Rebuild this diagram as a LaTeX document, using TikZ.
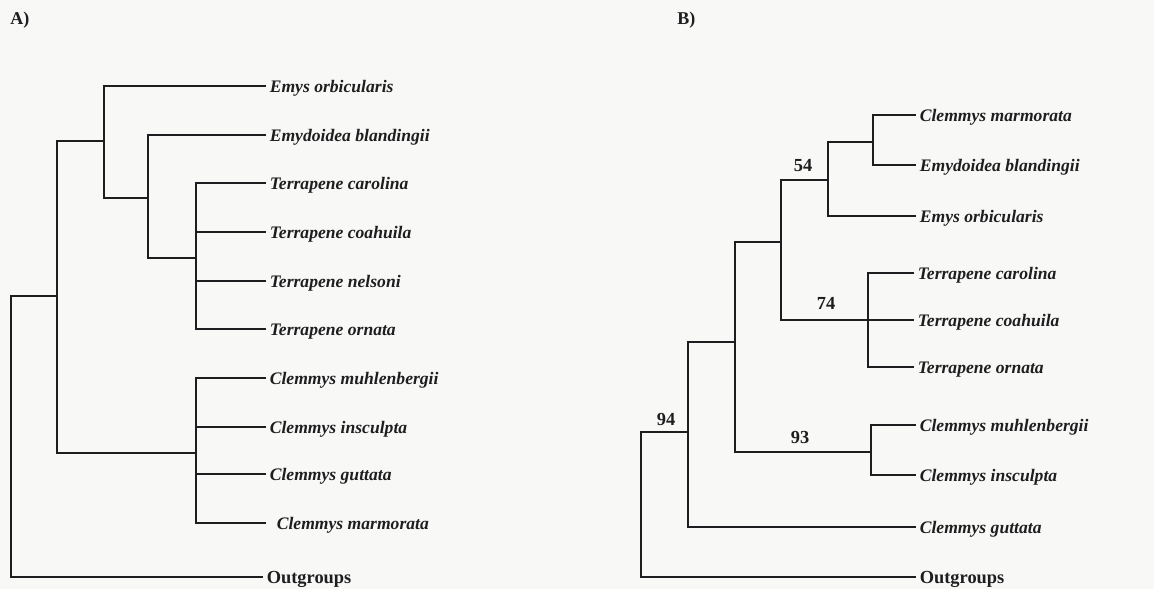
\documentclass[tikz,border=0pt]{standalone}
\usepackage{fontspec}
\setmainfont{Liberation Serif}
\definecolor{bg}{RGB}{248,248,246}
\definecolor{ink}{RGB}{30,30,32}
\begin{document}
\begin{tikzpicture}[x=0.5pt,y=-0.5pt,
  branch/.style={draw=ink,line width=1.2pt,line cap=rect},
  leaf/.style={anchor=west,inner xsep=2.2pt,inner ysep=0pt,text height=6pt,text depth=0pt,
    text=ink,font=\fontsize{8.8}{10}\selectfont\bfseries\itshape},
  outg/.style={anchor=west,inner xsep=2.2pt,inner ysep=0pt,text height=6pt,text depth=0pt,
    text=ink,font=\fontsize{9.2}{10}\selectfont\bfseries},
  support/.style={text=ink,font=\fontsize{9.2}{10}\selectfont\bfseries,inner sep=0pt},
  panel/.style={text=ink,font=\fontsize{9}{10}\selectfont\bfseries,inner sep=0pt,anchor=west}]
\fill[bg] (0,0) rectangle (1154,589);
\useasboundingbox (0,0) rectangle (1154,589);

% ---------------- Panel A ----------------
\node[panel] (labA) at (10,20) {A)};
\node[leaf] (a1) at (265,86) {Emys orbicularis};
\node[leaf] (a2) at (265,135) {Emydoidea blandingii};
\node[leaf] (a3) at (265,183) {Terrapene carolina};
\node[leaf] (a4) at (265,232) {Terrapene coahuila};
\node[leaf] (a5) at (265,281) {Terrapene nelsoni};
\node[leaf] (a6) at (265,329) {Terrapene ornata};
\node[leaf] (a7) at (265,378) {Clemmys muhlenbergii};
\node[leaf] (a8) at (265,427) {Clemmys insculpta};
\node[leaf] (a9) at (265,474) {Clemmys guttata};
\node[leaf,xshift=3.5pt] (a10) at (265,523) {Clemmys marmorata};
\node[outg] (a11) at (262,577) {Outgroups};

\coordinate (rA) at (11,296);
\coordinate (n1) at (57,296);
\coordinate (n2) at (104,141);
\coordinate (n3) at (148,198);
\coordinate (nT) at (196,258);
\coordinate (nC) at (196,453);

\draw[branch] (rA) |- (n1);
\draw[branch] (rA) |- (a11.west);
\draw[branch] (n1) |- (n2);
\draw[branch] (n1) |- (nC);
\draw[branch] (n2) |- (a1.west);
\draw[branch] (n2) |- (n3);
\draw[branch] (n3) |- (a2.west);
\draw[branch] (n3) |- (nT);
\draw[branch] (nT) |- (a3.west);
\draw[branch] (nT) |- (a4.west);
\draw[branch] (nT) |- (a5.west);
\draw[branch] (nT) |- (a6.west);
\draw[branch] (nC) |- (a7.west);
\draw[branch] (nC) |- (a8.west);
\draw[branch] (nC) |- (a9.west);
\draw[branch] (nC) |- ([xshift=-3.5pt]a10.west);

% ---------------- Panel B ----------------
\node[panel] (labB) at (677,20) {B)};
\node[leaf] (b1) at (915,115) {Clemmys marmorata};
\node[leaf] (b2) at (915,165) {Emydoidea blandingii};
\node[leaf] (b3) at (915,216) {Emys orbicularis};
\node[leaf] (b4) at (913,273) {Terrapene carolina};
\node[leaf] (b5) at (913,320) {Terrapene coahuila};
\node[leaf] (b6) at (913,367) {Terrapene ornata};
\node[leaf] (b7) at (915,425) {Clemmys muhlenbergii};
\node[leaf] (b8) at (915,475) {Clemmys insculpta};
\node[leaf] (b9) at (915,527) {Clemmys guttata};
\node[outg] (b10) at (915,577) {Outgroups};

\coordinate (rB) at (641,432);
\coordinate (m1) at (688,432);
\coordinate (m2) at (735,342);
\coordinate (m3) at (781,242);
\coordinate (m5) at (828,180);
\coordinate (m7) at (873,142);
\coordinate (m6) at (868,320);
\coordinate (m4) at (871,452);

\draw[branch] (rB) |- (m1);
\draw[branch] (rB) |- (b10.west);
\draw[branch] (m1) |- (m2);
\draw[branch] (m1) |- (b9.west);
\draw[branch] (m2) |- (m3);
\draw[branch] (m2) |- (m4);
\draw[branch] (m3) |- (m5);
\draw[branch] (m3) |- (m6);
\draw[branch] (m5) |- (m7);
\draw[branch] (m5) |- (b3.west);
\draw[branch] (m7) |- (b1.west);
\draw[branch] (m7) |- (b2.west);
\draw[branch] (m6) |- (b4.west);
\draw[branch] (m6) |- (b5.west);
\draw[branch] (m6) |- (b6.west);
\draw[branch] (m4) |- (b7.west);
\draw[branch] (m4) |- (b8.west);

\node[support] (s94) at (666,419) {94};
\node[support] (s54) at (803,166) {54};
\node[support] (s74) at (826,303) {74};
\node[support] (s93) at (800,437) {93};
\end{tikzpicture}
\end{document}
